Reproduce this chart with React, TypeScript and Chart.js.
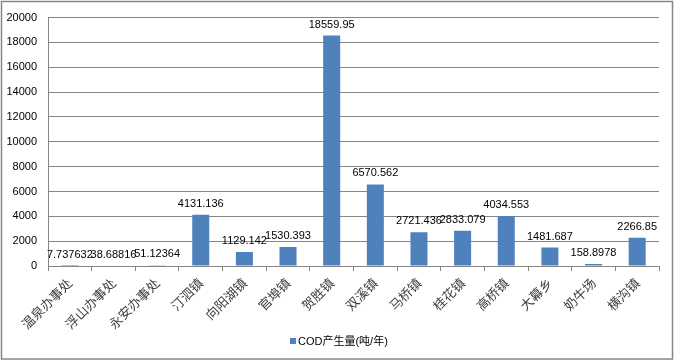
import React, { useEffect, useRef } from "react";
import { Chart, registerables } from "chart.js";

Chart.register(...registerables);

const categories = ["温泉办事处", "浮山办事处", "永安办事处", "汀泗镇", "向阳湖镇", "官埠镇", "贺胜镇", "双溪镇", "马桥镇", "桂花镇", "高桥镇", "大幕乡", "奶牛场", "横沟镇"];
const codValues = [7.737632, 38.68816, 51.12364, 4131.136, 1129.142, 1530.393, 18559.95, 6570.562, 2721.436, 2833.079, 4034.553, 1481.687, 158.8978, 2266.85];
const valueLabels = ["7.737632", "38.68816", "51.12364", "4131.136", "1129.142", "1530.393", "18559.95", "6570.562", "2721.436", "2833.079", "4034.553", "1481.687", "158.8978", "2266.85"];
const seriesName = "COD产生量(吨/年)";

const W = 674;
const H = 361;
const LEFT = 48;
const RIGHT = 659;
const TOP = 14;
const BOTTOM = 266;
const GRID = "#868686";
const BAR = "#4F81BD";

const extrasPlugin = {
  id: "extras",
  afterDatasetsDraw(chart: any) {
    const ctx = chart.ctx;
    const meta = chart.getDatasetMeta(0);
    ctx.save();
    ctx.font = "11px 'Liberation Sans', Arial, sans-serif";
    ctx.fillStyle = "#000";
    ctx.textAlign = "center";
    ctx.textBaseline = "middle";
    meta.data.forEach((el: any, i: number) => {
      ctx.fillText(valueLabels[i], el.x, el.y - 11);
    });
    ctx.restore();
  },
  afterDraw(chart: any) {
    const ctx = chart.ctx;
    ctx.save();
    ctx.strokeStyle = GRID;
    ctx.lineWidth = 1.5;
    ctx.strokeRect(1.5, 1.5, W - 3, H - 3.5);
    ctx.fillStyle = BAR;
    ctx.fillRect(290, 338, 6, 6);
    ctx.fillStyle = "#000";
    ctx.font = "11px 'Liberation Sans', 'Noto Sans CJK SC', sans-serif";
    ctx.textAlign = "left";
    ctx.textBaseline = "middle";
    ctx.fillText(seriesName, 298, 341.5);
    ctx.restore();
  },
};

export default function App() {
  const ref = useRef<HTMLCanvasElement>(null);
  useEffect(() => {
    if (!ref.current) return;
    const chart = new Chart(ref.current, {
      type: "bar",
      data: {
        labels: categories,
        datasets: [
          {
            label: seriesName,
            data: codValues,
            backgroundColor: BAR,
            barPercentage: 0.39,
            categoryPercentage: 1,
          },
        ],
      },
      options: {
        responsive: false,
        animation: false,
        layout: { padding: { top: TOP, right: W - RIGHT, bottom: 0, left: 0 } },
        plugins: { legend: { display: false }, tooltip: { enabled: false } },
        scales: {
          x: {
            grid: {
              display: true,
              offset: true,
              drawOnChartArea: false,
              drawTicks: true,
              tickLength: 5,
              color: GRID,
            },
            border: { display: true, color: GRID },
            ticks: {
              minRotation: 45,
              maxRotation: 45,
              autoSkip: false,
              padding: 4,
              color: "#404040",
              font: { family: "'Noto Sans CJK SC', serif", size: 13 },
            },
            afterFit(scale: any) {
              scale.height = H - BOTTOM;
            },
          },
          y: {
            min: 0,
            max: 20000,
            grid: { color: GRID, drawTicks: false },
            border: { display: true, color: GRID },
            ticks: {
              stepSize: 2000,
              padding: 11,
              color: "#000",
              font: { family: "'Liberation Sans', Arial, sans-serif", size: 11 },
              callback: (v: any) => String(v),
            },
            afterFit(scale: any) {
              scale.width = LEFT;
            },
          },
        },
      },
      plugins: [extrasPlugin],
    });
    return () => chart.destroy();
  }, []);
  return (
    <div style={{ position: "fixed", left: 0, top: 0, width: W, height: H, background: "#fff" }}>
      <canvas ref={ref} width={W} height={H} style={{ display: "block" }} />
    </div>
  );
}
